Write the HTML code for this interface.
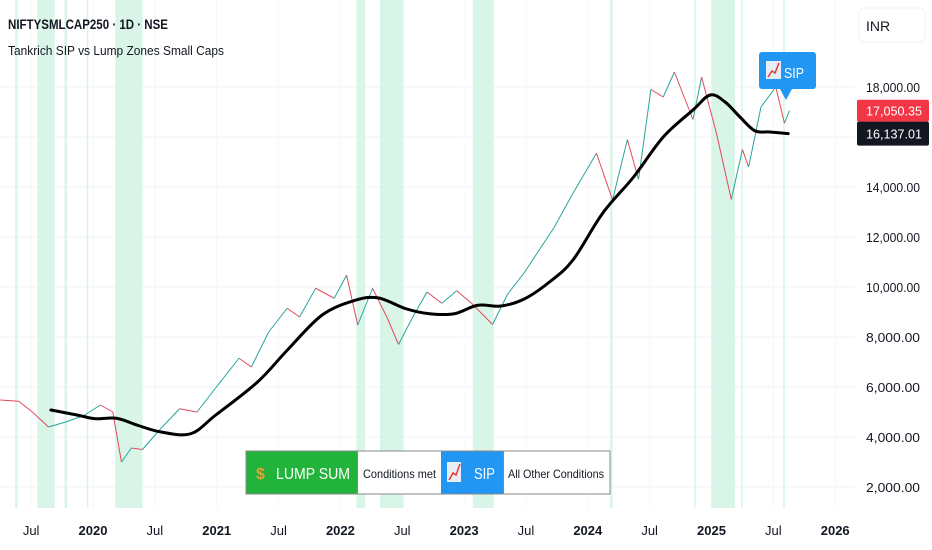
<!DOCTYPE html>
<html><head><meta charset="utf-8">
<style>
body{margin:0;background:#fff;font-family:"Liberation Sans","Noto Sans CJK SC",sans-serif;}
#wrap{position:relative;width:932px;height:550px;overflow:hidden;}
svg{position:absolute;left:0;top:0;}
</style></head><body>
<div id="wrap">
<svg id="chart" width="932" height="550"></svg>
</div>
<script>
const priceT=[2019.25,2019.40,2019.51,2019.64,2019.78,2019.93,2020.06,2020.16,2020.23,2020.31,2020.40,2020.55,2020.70,2020.84,2020.99,2021.18,2021.28,2021.42,2021.57,2021.67,2021.80,2021.95,2022.05,2022.14,2022.26,2022.38,2022.47,2022.58,2022.70,2022.82,2022.94,2023.06,2023.23,2023.35,2023.49,2023.59,2023.73,2023.88,2024.07,2024.20,2024.32,2024.41,2024.51,2024.61,2024.70,2024.85,2024.92,2025.04,2025.16,2025.25,2025.30,2025.40,2025.52,2025.59,2025.63];
const priceV=[5480,5430,5000,4400,4600,4870,5280,5000,3000,3560,3500,4350,5130,5000,5950,7150,6800,8200,9150,8800,9950,9550,10470,8480,9950,8750,7700,8750,9800,9350,9850,9350,8500,9700,10600,11350,12400,13750,15350,13480,15900,14300,17900,17600,18600,16700,18400,16150,13500,15500,14800,17200,18000,16550,17050.35];
const maT=[2019.66,2019.88,2020.02,2020.19,2020.36,2020.55,2020.79,2020.99,2021.33,2021.57,2021.85,2022.12,2022.31,2022.53,2022.72,2022.92,2023.11,2023.30,2023.49,2023.69,2023.88,2024.12,2024.37,2024.61,2024.85,2024.99,2025.11,2025.23,2025.35,2025.47,2025.62];
const maV=[5080,4870,4730,4750,4470,4200,4130,4870,6200,7470,8870,9470,9560,9130,8930,8930,9270,9240,9530,10200,11080,12950,14400,16000,17080,17680,17400,16800,16250,16200,16137.01];
const bandStart=[2019.37,2019.55,2019.77,2019.95,2020.18,2022.13,2022.32,2023.07,2024.18,2024.86,2025.00,2025.24,2025.58];
const bandEnd=[2019.39,2019.69,2019.79,2019.96,2020.40,2022.20,2022.51,2023.24,2024.20,2024.87,2025.19,2025.25,2025.59];
const yTicks=[18000,16000,14000,12000,10000,8000,6000,4000,2000];
const xTickT=[2019.5,2020,2020.5,2021,2021.5,2022,2022.5,2023,2023.5,2024,2024.5,2025,2025.5,2026];
const xTickL=["Jul","2020","Jul","2021","Jul","2022","Jul","2023","Jul","2024","Jul","2025","Jul","2026"];

const NS="http://www.w3.org/2000/svg";
const svg=document.getElementById('chart');
const X=t=>93+(t-2020)*123.7;
const Y=v=>537-v*0.025;
function mk(tag,attrs,parent){const e=document.createElementNS(NS,tag);for(const k in attrs)e.setAttribute(k,attrs[k]);(parent||svg).appendChild(e);return e;}

yTicks.forEach(v=>{
  const l=mk('line',{x1:0,x2:855,y1:Y(v),y2:Y(v),stroke:'#eef0f4','stroke-width':1});
  
  
});
xTickT.forEach(t=>{
  const l=mk('line',{x1:X(t),x2:X(t),y1:0,y2:508,stroke:'#f6f7f9','stroke-width':1});
  
  
});
bandStart.forEach((s,i)=>{
  const r=mk('rect',{x:X(s),y:0,width:Math.max(1.5,X(bandEnd[i])-X(s)),height:508,fill:'#d9f5e8'});
  
  
});
for(let i=1;i<priceT.length;i++){
  const up=priceV[i]>=priceV[i-1];
  const l=mk('line',{x1:X(priceT[i-1]),y1:Y(priceV[i-1]),x2:X(priceT[i]),y2:Y(priceV[i]),stroke:up?'#26a69a':'#e5485a','stroke-width':1});
  
  
}
// smooth MA (catmull-rom)
const P=maT.map((t,i)=>[X(t),Y(maV[i])]);
let d='M'+P[0][0]+','+P[0][1];
for(let i=0;i<P.length-1;i++){
  const p0=P[Math.max(0,i-1)],p1=P[i],p2=P[i+1],p3=P[Math.min(P.length-1,i+2)];
  const c1=[p1[0]+(p2[0]-p0[0])/6,p1[1]+(p2[1]-p0[1])/6];
  const c2=[p2[0]-(p3[0]-p1[0])/6,p2[1]-(p3[1]-p1[1])/6];
  d+=' C'+c1[0]+','+c1[1]+' '+c2[0]+','+c2[1]+' '+p2[0]+','+p2[1];
}
const ma=mk('path',{d:d,fill:'none',stroke:'#000','stroke-width':3,'stroke-linejoin':'round','stroke-linecap':'round'});



yTicks.forEach(v=>{
  const t=mk('text',{x:866,y:Y(v)+5,'font-size':13,fill:'#131722',textLength:54,lengthAdjust:'spacingAndGlyphs'});
  t.textContent=v.toLocaleString('en-US',{minimumFractionDigits:2});
  
  
});
xTickT.forEach((t,i)=>{
  const e=mk('text',{x:X(t),y:535,'font-size':13,'text-anchor':'middle',fill:'#131722','font-weight':xTickL[i]==='Jul'?'normal':'bold'});
  e.textContent=xTickL[i];
  
  
});
const lastP=priceV[priceV.length-1], lastM=maV[maV.length-1];
const pr=mk('rect',{x:857,y:Y(lastP)-11,width:72,height:22,fill:'#f23645',rx:2});


const pt=mk('text',{x:866,y:Y(lastP)+5,'font-size':13,fill:'#fff',textLength:56,lengthAdjust:'spacingAndGlyphs'});pt.textContent=lastP.toLocaleString('en-US',{minimumFractionDigits:2});


const mr=mk('rect',{x:857,y:Y(lastM)-12,width:72,height:24,fill:'#131722',rx:2});


const mt=mk('text',{x:866,y:Y(lastM)+5,'font-size':13,fill:'#fff',textLength:56,lengthAdjust:'spacingAndGlyphs'});mt.textContent=lastM.toLocaleString('en-US',{minimumFractionDigits:2});


</script>
<svg width="932" height="550" style="pointer-events:none">
<rect x="859" y="8" width="66" height="34" rx="5" fill="#fff" stroke="#f0f1f4"/>
<text x="866" y="31" font-size="14" fill="#131722">INR</text>
<text x="8" y="29" font-size="14" font-weight="bold" fill="#131722" textLength="160" lengthAdjust="spacingAndGlyphs">NIFTYSMLCAP250 · 1D · NSE</text>
<text x="8" y="55" font-size="13" fill="#131722" textLength="216" lengthAdjust="spacingAndGlyphs">Tankrich SIP vs Lump Zones Small Caps</text>
<g>
<rect x="759" y="52" width="57" height="37" rx="3" fill="#2196f3"/>
<polygon points="780,89 792,89 786,100" fill="#2196f3"/>
<rect x="766" y="61" width="15" height="18" fill="#e8eef5"/>
<polyline points="768,77 772,71 775,73 779,63" stroke="#e53935" stroke-width="1.5" fill="none"/>
<text x="784" y="78" font-size="15" fill="#fff" textLength="20" lengthAdjust="spacingAndGlyphs">SIP</text>
</g>
<g>
<rect x="246" y="451" width="364" height="43" fill="#fff" stroke="#888"/>
<rect x="246.5" y="451.5" width="111" height="42" fill="#22b33a"/>
<text x="256" y="479" font-size="16" font-weight="bold" fill="#d9a53a">$</text>
<text x="276" y="479" font-size="16" fill="#fff" textLength="74" lengthAdjust="spacingAndGlyphs">LUMP SUM</text>
<text x="363" y="478" font-size="12" fill="#131722" textLength="73" lengthAdjust="spacingAndGlyphs">Conditions met</text>
<rect x="441" y="451.5" width="62" height="42" fill="#2196f3"/>
<rect x="447" y="462" width="14" height="20" fill="#e8eef5"/>
<polyline points="449,480 453,473 456,475 460,464" stroke="#e53935" stroke-width="1.5" fill="none"/>
<text x="474" y="479" font-size="16" fill="#fff" textLength="21" lengthAdjust="spacingAndGlyphs">SIP</text>
<text x="508" y="478" font-size="12" fill="#131722" textLength="96" lengthAdjust="spacingAndGlyphs">All Other Conditions</text>
<line x1="357.5" y1="451" x2="357.5" y2="494" stroke="#888"/>
<line x1="503.5" y1="451" x2="503.5" y2="494" stroke="#888"/>
</g>
</svg>
</body></html>
